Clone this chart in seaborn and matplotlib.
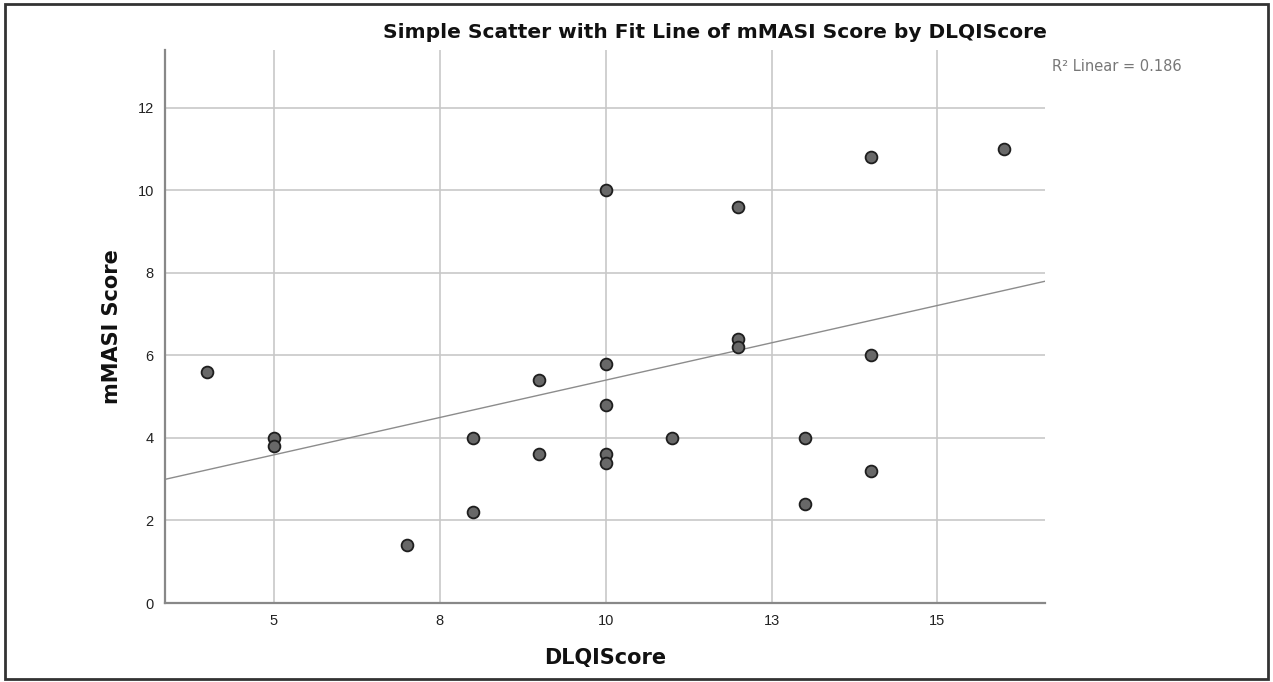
import matplotlib
matplotlib.use("Agg")
import matplotlib.pyplot as plt
import seaborn as sns
import pandas as pd
from matplotlib.patches import Rectangle

# DLQI score vs mMASI score
dlqi = [4, 5, 5, 7, 8, 8, 9, 9, 10, 10, 10, 10, 10, 11, 12, 12, 12, 13, 13, 14, 14, 14, 16]
mmasi = [5.6, 4.0, 3.8, 1.4, 4.0, 2.2, 5.4, 3.6, 10.0, 5.8, 4.8, 3.6, 3.4, 4.0,
         9.6, 6.4, 6.2, 4.0, 2.4, 10.8, 6.0, 3.2, 11.0]
# linear fit as drawn in the reference (intercept, slope)
fit_intercept = 1.78
fit_slope = 0.362
x_ticks = [5, 7.5, 10, 12.5, 15]
x_tick_labels = ["5", "8", "10", "13", "15"]
y_ticks = [0, 2, 4, 6, 8, 10, 12]
r2_text = "R² Linear = 0.186"

df = pd.DataFrame({"DLQIScore": dlqi, "mMASI Score": mmasi})

sns.set_style("white")
plt.rcParams["font.family"] = ["Liberation Sans", "DejaVu Sans"]

fig = plt.figure(figsize=(12.73, 6.82), dpi=100)
ax = fig.add_axes([0.1296, 0.1158, 0.6913, 0.8109])

sns.scatterplot(data=df, x="DLQIScore", y="mMASI Score", ax=ax, s=72,
                color="#686868", edgecolor="#1e1e1e", linewidth=1.3, zorder=3)
ax.axline((0, fit_intercept), slope=fit_slope, color="#8c8c8c", linewidth=1.0, zorder=2)

ax.set_xlim(3.36, 16.62)
ax.set_ylim(0, 13.4)
ax.set_xticks(x_ticks)
ax.set_xticklabels(x_tick_labels)
ax.set_yticks(y_ticks)
ax.tick_params(axis="both", length=0, labelsize=10.5, colors="#222222", pad=8)

ax.grid(True, color="#c8c8c8", linewidth=1.2)
ax.set_axisbelow(True)
for side in ["top", "right"]:
    ax.spines[side].set_visible(False)
for side in ["left", "bottom"]:
    ax.spines[side].set_color("#888888")
    ax.spines[side].set_linewidth(1.6)

bold = dict(family="DejaVu Sans", fontweight="bold", color="#111111")
ax.set_xlabel("DLQIScore", fontsize=15, labelpad=14, **bold)
ax.set_ylabel("mMASI Score", fontsize=15, labelpad=11, **bold)
fig.text(0.5617, 0.952, "Simple Scatter with Fit Line of mMASI Score by DLQIScore",
         ha="center", va="center", fontsize=14.5, **bold)
fig.text(0.8264, 0.903, r2_text, ha="left", va="center", fontsize=10.5,
         family="DejaVu Sans", color="#777777")

fig.patches.append(Rectangle((0.004, 0.004), 0.992, 0.99, transform=fig.transFigure,
                             fill=False, edgecolor="#333333", linewidth=2))

plt.savefig("out.png", dpi=100)
plt.close()
